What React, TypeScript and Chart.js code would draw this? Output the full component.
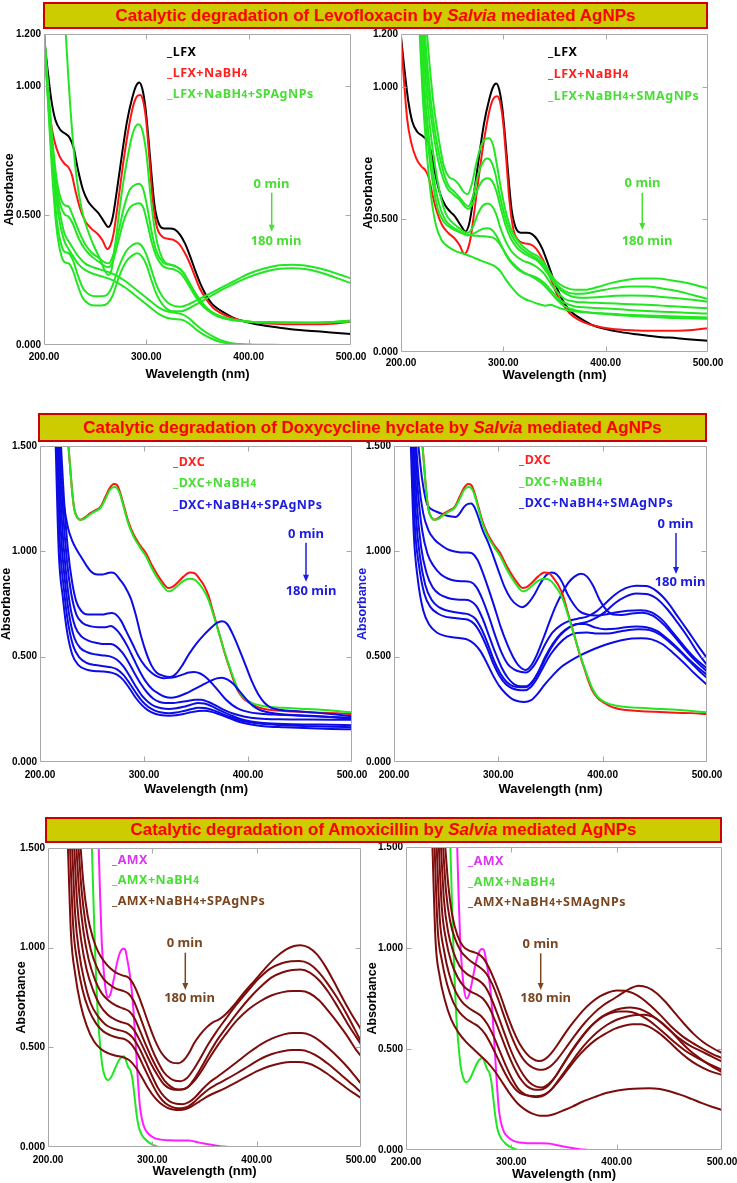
import React, { useEffect, useRef } from "react";
import { Chart, registerables } from "chart.js";

Chart.register(...registerables);

type Pt = [number, number];

// ---------- axis ticks ----------
const X_TICKS = [200, 300, 400, 500];
const Y_TICKS_LFX = [0, 0.5, 1.0, 1.2];
const Y_TICKS_STD = [0, 0.5, 1.0, 1.5];

// ---------- Levofloxacin (panels 1 & 2) ----------
const LFX: Pt[] = [[200,1.19],[203,1.08],[207,0.95],[211,0.87],[216,0.83],[221,0.815],[225,0.8],[229,0.76],[233,0.68],[238,0.6],[243,0.555],[248,0.53],[253,0.51],[258,0.48],[263,0.455],[267,0.49],[271,0.59],[276,0.73],[281,0.86],[286,0.95],[290,1.0],[293,1.013],[296,0.99],[299,0.92],[302,0.8],[305,0.66],[308,0.54],[312,0.47],[317,0.45],[323,0.45],[328,0.445],[333,0.425],[338,0.39],[343,0.34],[348,0.285],[353,0.235],[358,0.195],[364,0.16],[370,0.14],[378,0.12],[388,0.1],[400,0.087],[415,0.075],[430,0.067],[450,0.058],[470,0.052],[490,0.045],[500,0.042]];
const LFX_NABH4: Pt[] = [[200,1.18],[203,1.02],[206,0.88],[210,0.79],[215,0.73],[220,0.7],[224,0.685],[227,0.66],[231,0.59],[235,0.53],[240,0.48],[246,0.45],[252,0.43],[257,0.405],[262,0.37],[265,0.385],[268,0.43],[272,0.54],[277,0.69],[282,0.82],[287,0.92],[291,0.96],[294,0.965],[297,0.94],[300,0.86],[303,0.72],[306,0.57],[310,0.46],[315,0.42],[321,0.41],[327,0.405],[332,0.39],[337,0.36],[342,0.32],[347,0.27],[352,0.22],[358,0.18],[365,0.145],[372,0.125],[380,0.11],[390,0.098],[405,0.088],[425,0.082],[450,0.08],[470,0.08],[485,0.083],[500,0.09]];

const LFX_SP_1: Pt[] = [[221,1.22],[224,1.02],[228,0.8],[232,0.64],[237,0.52],[243,0.44],[249,0.38],[255,0.33],[259,0.29],[263,0.27],[266,0.29],[270,0.4],[275,0.56],[281,0.71],[287,0.82],[292,0.852],[296,0.83],[300,0.74],[304,0.58],[308,0.45],[313,0.36],[318,0.32],[324,0.31],[330,0.3],[336,0.28],[342,0.24],[348,0.2],[355,0.16],[363,0.13],[372,0.11],[385,0.097],[400,0.09],[430,0.087],[460,0.086],[480,0.088],[500,0.095]];
const LFX_SP_2: Pt[] = [[200,1.21],[204,1.0],[208,0.8],[212,0.65],[216,0.57],[220,0.54],[224,0.535],[228,0.5],[234,0.44],[240,0.39],[247,0.355],[254,0.335],[259,0.32],[263,0.315],[267,0.34],[272,0.42],[278,0.53],[284,0.6],[290,0.62],[293,0.622],[297,0.6],[301,0.53],[305,0.44],[310,0.36],[316,0.32],[322,0.31],[328,0.305],[334,0.29],[340,0.255],[346,0.21],[353,0.17],[361,0.135],[370,0.115],[382,0.1],[400,0.09],[430,0.087],[460,0.086],[480,0.088],[500,0.093]];
const LFX_SP_3: Pt[] = [[200,1.2],[204,0.98],[208,0.78],[212,0.62],[216,0.54],[220,0.505],[224,0.495],[228,0.47],[234,0.41],[240,0.37],[247,0.34],[254,0.32],[259,0.305],[263,0.3],[267,0.32],[272,0.39],[278,0.48],[284,0.53],[290,0.545],[293,0.547],[297,0.53],[301,0.47],[305,0.4],[310,0.34],[316,0.305],[322,0.295],[328,0.29],[334,0.275],[340,0.24],[346,0.2],[353,0.16],[361,0.13],[370,0.11],[382,0.097],[400,0.09],[430,0.087],[460,0.086],[480,0.088],[500,0.091]];
const LFX_SP_4: Pt[] = [[200,1.2],[204,0.95],[208,0.7],[212,0.5],[216,0.4],[220,0.36],[224,0.355],[228,0.33],[233,0.27],[238,0.22],[244,0.195],[250,0.188],[256,0.188],[262,0.195],[267,0.23],[273,0.3],[280,0.36],[286,0.385],[291,0.393],[295,0.385],[300,0.35],[305,0.29],[310,0.23],[316,0.185],[322,0.16],[328,0.15],[334,0.148],[340,0.155],[348,0.17],[358,0.19],[370,0.215],[385,0.245],[400,0.275],[415,0.295],[430,0.308],[442,0.31],[455,0.307],[470,0.295],[485,0.277],[500,0.257]];
const LFX_SP_5: Pt[] = [[200,1.2],[204,0.93],[208,0.66],[212,0.46],[216,0.36],[220,0.32],[224,0.315],[228,0.29],[233,0.23],[238,0.18],[244,0.158],[250,0.152],[256,0.152],[262,0.16],[267,0.19],[273,0.26],[280,0.32],[286,0.345],[291,0.354],[295,0.345],[300,0.31],[305,0.25],[310,0.195],[316,0.155],[322,0.135],[328,0.13],[334,0.13],[340,0.138],[348,0.155],[358,0.177],[370,0.205],[385,0.235],[400,0.262],[415,0.282],[430,0.294],[442,0.296],[455,0.293],[470,0.28],[485,0.26],[500,0.238]];
const LFX_SP_6: Pt[] = [[200,1.21],[204,0.97],[208,0.76],[212,0.6],[216,0.5],[220,0.43],[224,0.4],[228,0.375],[234,0.34],[240,0.315],[248,0.3],[256,0.29],[264,0.28],[272,0.265],[280,0.245],[288,0.22],[296,0.195],[304,0.17],[312,0.145],[320,0.13],[327,0.125],[334,0.12],[341,0.105],[348,0.08],[356,0.055],[364,0.035],[372,0.02],[382,0.008],[395,0.003],[420,0.001],[440,-0.002],[450,-0.02]];
const LFX_SP_7: Pt[] = [[200,1.2],[204,0.95],[208,0.73],[212,0.56],[216,0.46],[220,0.4],[224,0.37],[228,0.345],[234,0.31],[240,0.29],[248,0.275],[256,0.265],[264,0.255],[272,0.24],[280,0.22],[288,0.195],[296,0.17],[304,0.145],[312,0.12],[320,0.105],[327,0.1],[334,0.098],[341,0.085],[348,0.062],[356,0.04],[364,0.024],[372,0.012],[382,0.005],[395,0.001],[420,0],[440,-0.002],[450,-0.02]];

const LFX_SM_1: Pt[] = [[225,1.22],[228,1.08],[232,0.93],[237,0.8],[242,0.7],[247,0.66],[252,0.65],[257,0.63],[261,0.605],[265,0.595],[269,0.63],[274,0.72],[279,0.785],[283,0.805],[286,0.807],[290,0.78],[294,0.7],[298,0.61],[303,0.52],[308,0.46],[314,0.42],[320,0.395],[327,0.375],[334,0.36],[340,0.335],[346,0.295],[352,0.265],[360,0.245],[370,0.235],[380,0.235],[392,0.245],[405,0.26],[420,0.272],[435,0.277],[450,0.277],[465,0.27],[480,0.26],[490,0.25],[500,0.24]];
const LFX_SM_2: Pt[] = [[223,1.22],[226,1.07],[230,0.92],[235,0.79],[240,0.7],[246,0.63],[252,0.605],[258,0.58],[262,0.56],[266,0.55],[270,0.585],[275,0.665],[280,0.715],[284,0.73],[288,0.72],[292,0.675],[296,0.6],[301,0.52],[306,0.46],[312,0.415],[318,0.39],[325,0.37],[332,0.355],[339,0.33],[345,0.295],[352,0.255],[360,0.23],[370,0.22],[382,0.222],[395,0.232],[410,0.242],[425,0.247],[440,0.247],[455,0.24],[470,0.23],[485,0.215],[500,0.2]];
const LFX_SM_3: Pt[] = [[222,1.22],[225,1.05],[229,0.9],[234,0.77],[239,0.68],[245,0.62],[251,0.595],[257,0.575],[262,0.55],[266,0.54],[270,0.56],[275,0.615],[280,0.648],[285,0.656],[289,0.645],[293,0.61],[297,0.55],[302,0.48],[307,0.43],[313,0.395],[319,0.375],[326,0.36],[333,0.345],[340,0.315],[346,0.28],[353,0.245],[360,0.222],[370,0.207],[382,0.205],[395,0.208],[410,0.212],[425,0.213],[440,0.212],[455,0.208],[470,0.203],[485,0.197],[500,0.19]];
const LFX_SM_4: Pt[] = [[221,1.22],[224,1.03],[228,0.86],[233,0.71],[238,0.6],[244,0.52],[250,0.49],[256,0.47],[261,0.455],[265,0.45],[270,0.47],[275,0.52],[280,0.553],[285,0.56],[289,0.55],[293,0.52],[297,0.47],[302,0.42],[307,0.385],[313,0.36],[319,0.345],[326,0.335],[333,0.32],[340,0.295],[346,0.26],[353,0.225],[360,0.2],[370,0.19],[382,0.187],[395,0.185],[410,0.183],[425,0.18],[440,0.178],[455,0.175],[470,0.172],[485,0.168],[500,0.165]];
const LFX_SM_5: Pt[] = [[220,1.22],[223,1.0],[227,0.82],[232,0.66],[237,0.56],[243,0.5],[249,0.475],[255,0.46],[260,0.45],[265,0.44],[270,0.445],[275,0.455],[280,0.465],[285,0.467],[289,0.46],[293,0.44],[297,0.41],[302,0.37],[307,0.34],[313,0.315],[319,0.3],[326,0.29],[333,0.28],[340,0.26],[346,0.235],[353,0.205],[360,0.185],[370,0.172],[382,0.168],[395,0.165],[410,0.162],[425,0.158],[440,0.155],[455,0.152],[470,0.15],[485,0.147],[500,0.145]];
const LFX_SM_6: Pt[] = [[219,1.22],[222,1.0],[226,0.8],[231,0.64],[236,0.54],[242,0.49],[248,0.47],[255,0.455],[262,0.445],[270,0.44],[278,0.437],[285,0.435],[291,0.43],[296,0.41],[301,0.38],[306,0.35],[312,0.325],[318,0.305],[325,0.29],[332,0.275],[339,0.255],[346,0.225],[353,0.195],[360,0.172],[370,0.158],[382,0.15],[395,0.146],[410,0.143],[425,0.14],[440,0.138],[455,0.136],[470,0.134],[485,0.132],[500,0.13]];
const LFX_SM_7: Pt[] = [[218,1.22],[221,0.98],[225,0.76],[229,0.6],[234,0.48],[240,0.42],[247,0.395],[254,0.38],[262,0.37],[270,0.358],[278,0.345],[285,0.335],[291,0.325],[297,0.305],[303,0.27],[309,0.24],[315,0.215],[321,0.2],[328,0.19],[335,0.18],[341,0.175],[346,0.178],[351,0.172],[358,0.162],[367,0.155],[380,0.15],[395,0.145],[410,0.14],[425,0.136],[440,0.133],[455,0.13],[470,0.128],[485,0.126],[500,0.125]];

// ---------- Doxycycline (panels 3 & 4) ----------
const DXC: Pt[] = [[227,1.52],[229,1.4],[231,1.28],[233,1.2],[236,1.16],[239,1.15],[243,1.16],[248,1.18],[253,1.195],[258,1.21],[263,1.26],[267,1.3],[271,1.32],[274,1.315],[277,1.28],[281,1.21],[285,1.14],[290,1.08],[296,1.03],[302,0.99],[308,0.93],[314,0.88],[319,0.845],[323,0.826],[327,0.83],[332,0.85],[338,0.88],[344,0.9],[349,0.895],[354,0.865],[358,0.835],[362,0.79],[366,0.72],[370,0.65],[374,0.58],[378,0.51],[382,0.45],[386,0.39],[390,0.34],[395,0.305],[400,0.285],[406,0.268],[412,0.256],[420,0.248],[435,0.242],[450,0.238],[470,0.234],[485,0.232],[500,0.228]];
const DXC_NABH4: Pt[] = [[227,1.52],[229,1.4],[231,1.28],[233,1.2],[236,1.16],[239,1.15],[243,1.155],[248,1.175],[253,1.19],[258,1.205],[263,1.25],[267,1.29],[271,1.305],[274,1.3],[277,1.27],[281,1.2],[285,1.13],[290,1.07],[296,1.02],[302,0.975],[308,0.915],[314,0.865],[319,0.83],[323,0.81],[327,0.815],[332,0.835],[338,0.86],[344,0.87],[349,0.865],[354,0.84],[358,0.81],[362,0.77],[366,0.71],[370,0.645],[374,0.58],[378,0.515],[382,0.455],[386,0.4],[390,0.35],[395,0.31],[400,0.29],[406,0.276],[412,0.268],[420,0.262],[435,0.257],[450,0.253],[470,0.248],[485,0.242],[500,0.236]];

const DXC_SP_1: Pt[] = [[217,1.52],[220,1.35],[223,1.22],[227,1.11],[231,1.05],[235,1.01],[240,0.97],[245,0.93],[250,0.9],[255,0.89],[260,0.89],[264,0.895],[268,0.9],[272,0.895],[277,0.865],[282,0.83],[287,0.78],[292,0.7],[297,0.6],[302,0.52],[307,0.46],[312,0.425],[318,0.41],[325,0.403],[331,0.42],[337,0.46],[343,0.51],[350,0.56],[357,0.6],[364,0.635],[370,0.66],[375,0.668],[380,0.655],[386,0.6],[392,0.53],[398,0.455],[404,0.38],[410,0.32],[416,0.28],[422,0.258],[430,0.248],[450,0.24],[470,0.232],[485,0.225],[500,0.217]];
const DXC_SP_2: Pt[] = [[220,1.52],[223,1.25],[227,1.0],[231,0.85],[235,0.76],[240,0.715],[246,0.7],[253,0.7],[260,0.7],[265,0.705],[269,0.707],[273,0.7],[278,0.67],[283,0.62],[289,0.56],[295,0.5],[301,0.455],[307,0.425],[313,0.405],[319,0.397],[325,0.4],[331,0.405],[337,0.415],[343,0.425],[348,0.427],[354,0.42],[360,0.4],[366,0.37],[372,0.335],[378,0.3],[385,0.27],[392,0.25],[400,0.238],[410,0.23],[425,0.225],[450,0.22],[475,0.215],[500,0.21]];
const DXC_SP_3: Pt[] = [[219,1.52],[222,1.2],[226,0.95],[230,0.8],[235,0.7],[241,0.66],[248,0.645],[256,0.64],[263,0.64],[268,0.645],[273,0.63],[278,0.6],[284,0.55],[290,0.49],[296,0.43],[302,0.38],[308,0.345],[314,0.325],[320,0.31],[326,0.305],[332,0.31],[340,0.325],[348,0.345],[356,0.365],[364,0.385],[370,0.397],[375,0.4],[380,0.392],[386,0.37],[392,0.335],[398,0.3],[404,0.27],[410,0.25],[418,0.237],[430,0.228],[450,0.222],[475,0.215],[500,0.205]];
const DXC_SP_4: Pt[] = [[218,1.52],[221,1.15],[225,0.9],[229,0.74],[234,0.64],[240,0.595],[247,0.575],[255,0.565],[262,0.56],[268,0.56],[273,0.55],[279,0.52],[285,0.475],[291,0.42],[297,0.37],[303,0.33],[309,0.3],[315,0.285],[321,0.28],[328,0.28],[335,0.285],[342,0.29],[349,0.295],[355,0.295],[362,0.285],[370,0.265],[378,0.245],[387,0.228],[397,0.215],[410,0.207],[430,0.203],[455,0.202],[480,0.201],[500,0.2]];
const DXC_SP_5: Pt[] = [[217,1.52],[220,1.1],[224,0.86],[228,0.7],[233,0.59],[239,0.54],[246,0.52],[254,0.51],[262,0.505],[268,0.5],[274,0.485],[280,0.455],[286,0.41],[292,0.36],[298,0.315],[304,0.285],[310,0.265],[317,0.255],[324,0.252],[331,0.255],[338,0.262],[345,0.272],[352,0.28],[358,0.278],[365,0.265],[373,0.245],[382,0.225],[392,0.205],[403,0.192],[415,0.185],[435,0.18],[460,0.178],[480,0.177],[500,0.175]];
const DXC_SP_6: Pt[] = [[216,1.52],[219,1.05],[223,0.82],[227,0.66],[232,0.55],[238,0.495],[245,0.47],[253,0.46],[261,0.455],[268,0.45],[274,0.44],[280,0.415],[286,0.375],[292,0.33],[298,0.29],[304,0.262],[310,0.245],[317,0.235],[324,0.232],[331,0.235],[338,0.242],[345,0.25],[352,0.257],[358,0.256],[365,0.248],[373,0.233],[382,0.215],[392,0.198],[403,0.187],[415,0.18],[435,0.174],[460,0.17],[480,0.167],[500,0.165]];
const DXC_SP_7: Pt[] = [[215,1.52],[218,1.0],[222,0.78],[226,0.62],[231,0.51],[237,0.46],[244,0.44],[252,0.432],[260,0.43],[268,0.425],[274,0.415],[280,0.39],[286,0.35],[292,0.305],[298,0.27],[304,0.245],[310,0.23],[317,0.222],[324,0.22],[331,0.222],[338,0.228],[345,0.236],[352,0.242],[358,0.243],[365,0.238],[373,0.225],[382,0.208],[392,0.19],[403,0.178],[415,0.17],[435,0.165],[460,0.16],[480,0.157],[500,0.155]];

const DXC_SM_1: Pt[] = [[223,1.52],[226,1.38],[229,1.28],[232,1.22],[236,1.2],[240,1.19],[245,1.18],[250,1.17],[255,1.165],[259,1.163],[263,1.18],[267,1.21],[271,1.225],[274,1.227],[277,1.21],[281,1.16],[285,1.1],[290,1.045],[295,0.98],[300,0.91],[306,0.83],[312,0.775],[318,0.745],[323,0.735],[328,0.75],[334,0.79],[340,0.845],[346,0.888],[351,0.899],[356,0.89],[361,0.855],[366,0.8],[372,0.75],[378,0.715],[385,0.7],[393,0.695],[402,0.7],[412,0.71],[424,0.718],[436,0.72],[447,0.71],[458,0.67],[468,0.61],[478,0.55],[489,0.49],[500,0.445]];
const DXC_SM_2: Pt[] = [[221,1.52],[224,1.32],[228,1.18],[233,1.1],[239,1.055],[245,1.03],[251,1.01],[257,1.0],[264,0.995],[270,0.995],[275,0.99],[280,0.96],[285,0.9],[290,0.83],[296,0.74],[302,0.645],[308,0.565],[314,0.5],[320,0.455],[326,0.437],[331,0.455],[337,0.51],[343,0.585],[349,0.665],[355,0.74],[361,0.8],[367,0.85],[373,0.88],[379,0.893],[385,0.88],[391,0.835],[397,0.77],[403,0.725],[410,0.7],[418,0.698],[428,0.705],[438,0.708],[448,0.695],[458,0.655],[468,0.6],[478,0.54],[489,0.48],[500,0.43]];
const DXC_SM_3: Pt[] = [[220,1.52],[223,1.28],[227,1.1],[232,0.99],[238,0.93],[245,0.89],[252,0.87],[259,0.86],[266,0.858],[273,0.855],[279,0.83],[285,0.77],[291,0.69],[297,0.6],[303,0.52],[309,0.465],[315,0.44],[321,0.428],[327,0.425],[333,0.45],[339,0.5],[345,0.56],[352,0.615],[360,0.65],[368,0.67],[376,0.68],[385,0.69],[394,0.715],[403,0.755],[412,0.795],[422,0.825],[432,0.837],[442,0.835],[452,0.81],[462,0.76],[472,0.69],[482,0.62],[491,0.555],[500,0.493]];
const DXC_SM_4: Pt[] = [[219,1.52],[222,1.22],[226,1.02],[231,0.9],[237,0.83],[244,0.795],[251,0.78],[258,0.772],[266,0.77],[273,0.765],[279,0.74],[285,0.68],[291,0.6],[297,0.52],[303,0.45],[309,0.4],[315,0.37],[321,0.36],[327,0.36],[333,0.385],[339,0.435],[345,0.5],[352,0.56],[360,0.61],[368,0.64],[376,0.655],[385,0.665],[394,0.685],[403,0.715],[412,0.755],[422,0.785],[432,0.8],[442,0.798],[452,0.775],[462,0.725],[472,0.66],[482,0.59],[491,0.52],[500,0.46]];
const DXC_SM_5: Pt[] = [[218,1.52],[221,1.17],[225,0.97],[230,0.84],[236,0.77],[243,0.735],[250,0.72],[257,0.712],[265,0.706],[272,0.7],[278,0.68],[284,0.63],[290,0.56],[296,0.48],[302,0.42],[308,0.38],[314,0.36],[320,0.355],[326,0.355],[332,0.375],[338,0.42],[344,0.48],[351,0.545],[359,0.6],[367,0.635],[375,0.655],[383,0.655],[392,0.64],[402,0.63],[412,0.632],[422,0.64],[432,0.643],[442,0.64],[452,0.622],[462,0.585],[472,0.54],[482,0.49],[491,0.45],[500,0.414]];
const DXC_SM_6: Pt[] = [[217,1.52],[220,1.12],[224,0.93],[229,0.8],[235,0.735],[242,0.705],[249,0.69],[256,0.685],[264,0.68],[271,0.675],[277,0.655],[283,0.61],[289,0.545],[295,0.47],[301,0.41],[307,0.37],[313,0.35],[319,0.342],[325,0.34],[331,0.355],[337,0.395],[343,0.45],[350,0.51],[358,0.56],[366,0.595],[375,0.612],[385,0.615],[395,0.61],[405,0.61],[415,0.618],[425,0.627],[435,0.63],[445,0.626],[455,0.605],[465,0.565],[475,0.52],[485,0.47],[493,0.43],[500,0.4]];
const DXC_SM_7: Pt[] = [[216,1.52],[219,1.08],[223,0.86],[228,0.72],[234,0.65],[241,0.615],[248,0.6],[256,0.592],[264,0.587],[271,0.58],[277,0.56],[283,0.525],[289,0.47],[295,0.41],[301,0.36],[307,0.325],[313,0.3],[319,0.288],[325,0.285],[331,0.292],[337,0.32],[344,0.365],[352,0.41],[360,0.45],[369,0.48],[378,0.505],[388,0.528],[398,0.548],[408,0.565],[418,0.578],[428,0.586],[437,0.588],[447,0.582],[457,0.56],[467,0.52],[477,0.475],[487,0.425],[500,0.367]];

// ---------- Amoxicillin (panels 5 & 6) ----------
const AMX: Pt[] = [[248.5,1.52],[250,1.25],[251.5,1.03],[253,0.91],[255,0.8],[257.5,0.75],[260,0.77],[263,0.84],[266,0.92],[269,0.975],[272,0.995],[274,0.99],[276,0.94],[278,0.88],[280,0.8],[282,0.68],[284,0.52],[286,0.35],[288,0.21],[290,0.14],[293,0.09],[297,0.063],[302,0.045],[308,0.037],[315,0.034],[325,0.033],[335,0.032],[345,0.022],[355,0.012],[365,0.004],[373,0],[380,-0.01]];
const AMX_NABH4: Pt[] = [[242,1.52],[243.5,1.25],[245,1.0],[246.5,0.8],[248,0.64],[250,0.51],[252,0.41],[254.5,0.355],[257.5,0.335],[260.5,0.35],[264,0.39],[268,0.435],[271,0.452],[273,0.455],[275,0.43],[277,0.4],[279,0.385],[281,0.34],[283,0.25],[285,0.16],[287,0.1],[290,0.06],[294,0.035],[298,0.018],[302,0.008],[306,0],[310,-0.01]];

const AMX_SP_1: Pt[] = [[231,1.52],[234,1.32],[238,1.16],[243,1.05],[248,0.98],[254,0.93],[260,0.895],[266,0.872],[272,0.86],[277,0.85],[281,0.825],[286,0.77],[291,0.7],[297,0.61],[303,0.53],[309,0.47],[315,0.435],[320,0.422],[325,0.42],[330,0.435],[335,0.47],[340,0.52],[346,0.565],[352,0.6],[358,0.625],[364,0.64],[370,0.665],[378,0.71],[388,0.775],[398,0.835],[408,0.895],[418,0.95],[428,0.99],[436,1.008],[442,1.012],[450,1.0],[458,0.965],[466,0.905],[474,0.83],[482,0.75],[490,0.675],[500,0.59]];
const AMX_SP_2: Pt[] = [[229,1.52],[232,1.3],[236,1.12],[241,0.99],[247,0.9],[253,0.845],[259,0.815],[265,0.795],[271,0.785],[277,0.77],[282,0.735],[287,0.67],[293,0.585],[299,0.5],[305,0.43],[311,0.375],[317,0.345],[322,0.332],[327,0.33],[333,0.345],[339,0.385],[346,0.445],[353,0.51],[361,0.575],[370,0.64],[380,0.71],[391,0.78],[402,0.845],[413,0.895],[424,0.922],[433,0.932],[441,0.933],[450,0.92],[459,0.88],[468,0.82],[477,0.75],[486,0.67],[494,0.59],[500,0.53]];
const AMX_SP_3: Pt[] = [[227,1.52],[230,1.27],[234,1.08],[239,0.94],[245,0.84],[251,0.775],[258,0.735],[265,0.71],[272,0.695],[278,0.68],[283,0.645],[288,0.585],[294,0.51],[300,0.44],[306,0.38],[312,0.33],[318,0.302],[323,0.29],[328,0.288],[334,0.3],[340,0.34],[347,0.4],[354,0.465],[362,0.535],[371,0.6],[381,0.67],[392,0.74],[403,0.8],[414,0.85],[425,0.877],[434,0.888],[442,0.89],[451,0.875],[460,0.835],[469,0.775],[478,0.7],[487,0.62],[495,0.555],[500,0.515]];
const AMX_SP_4: Pt[] = [[225,1.52],[228,1.22],[232,1.03],[237,0.89],[243,0.79],[250,0.71],[257,0.665],[264,0.64],[271,0.625],[277,0.615],[282,0.59],[287,0.545],[293,0.48],[299,0.415],[305,0.36],[311,0.315],[317,0.293],[322,0.287],[328,0.288],[334,0.3],[340,0.33],[347,0.38],[354,0.44],[362,0.505],[371,0.57],[381,0.635],[392,0.69],[403,0.73],[414,0.76],[425,0.777],[434,0.782],[442,0.782],[451,0.77],[460,0.735],[469,0.68],[478,0.62],[487,0.555],[495,0.49],[500,0.456]];
const AMX_SP_5: Pt[] = [[223,1.52],[226,1.17],[230,0.97],[235,0.83],[241,0.72],[248,0.655],[255,0.615],[262,0.595],[269,0.585],[275,0.575],[281,0.55],[287,0.5],[293,0.435],[299,0.365],[305,0.3],[311,0.255],[317,0.228],[323,0.217],[329,0.215],[335,0.225],[341,0.25],[348,0.29],[355,0.325],[363,0.355],[372,0.39],[382,0.43],[393,0.475],[404,0.515],[415,0.545],[426,0.565],[435,0.572],[443,0.572],[452,0.56],[461,0.53],[470,0.49],[479,0.445],[488,0.395],[495,0.35],[500,0.318]];
const AMX_SP_6: Pt[] = [[221,1.52],[224,1.12],[228,0.93],[233,0.79],[239,0.69],[246,0.62],[253,0.58],[260,0.56],[267,0.548],[274,0.54],[280,0.515],[286,0.465],[292,0.4],[298,0.335],[304,0.275],[310,0.232],[316,0.207],[322,0.196],[328,0.194],[334,0.202],[340,0.225],[347,0.26],[354,0.29],[362,0.315],[371,0.34],[381,0.37],[392,0.405],[403,0.44],[414,0.465],[425,0.48],[434,0.486],[442,0.486],[451,0.475],[460,0.45],[469,0.415],[478,0.375],[487,0.335],[495,0.298],[500,0.275]];
const AMX_SP_7: Pt[] = [[219,1.52],[222,1.07],[226,0.87],[231,0.72],[237,0.61],[244,0.53],[251,0.49],[258,0.47],[265,0.458],[272,0.45],[278,0.435],[284,0.4],[290,0.35],[296,0.295],[302,0.25],[308,0.218],[314,0.198],[320,0.188],[326,0.185],[332,0.19],[338,0.205],[345,0.228],[352,0.252],[360,0.272],[369,0.293],[379,0.32],[390,0.352],[401,0.382],[412,0.405],[423,0.42],[432,0.427],[440,0.427],[449,0.42],[458,0.4],[467,0.37],[476,0.335],[485,0.3],[493,0.27],[500,0.246]];

const AMX_SM_1: Pt[] = [[237,1.52],[240,1.32],[244,1.16],[249,1.06],[254,1.01],[259,0.99],[264,0.98],[269,0.97],[274,0.945],[279,0.9],[284,0.84],[290,0.76],[296,0.67],[302,0.59],[308,0.525],[314,0.48],[320,0.452],[326,0.44],[332,0.45],[338,0.48],[345,0.53],[352,0.585],[360,0.64],[368,0.69],[376,0.73],[384,0.76],[392,0.78],[400,0.79],[408,0.788],[416,0.775],[424,0.75],[432,0.715],[442,0.665],[452,0.61],[462,0.565],[472,0.53],[482,0.5],[491,0.475],[500,0.455]];
const AMX_SM_2: Pt[] = [[235,1.52],[238,1.28],[242,1.13],[247,1.04],[252,0.985],[258,0.95],[264,0.925],[270,0.905],[276,0.875],[282,0.82],[288,0.74],[294,0.65],[300,0.565],[306,0.495],[312,0.445],[318,0.415],[324,0.4],[330,0.397],[336,0.41],[343,0.445],[351,0.5],[360,0.565],[369,0.625],[378,0.675],[387,0.715],[396,0.745],[405,0.775],[413,0.8],[421,0.813],[429,0.805],[437,0.78],[446,0.735],[455,0.68],[464,0.625],[473,0.575],[482,0.535],[491,0.505],[500,0.48]];
const AMX_SM_3: Pt[] = [[233,1.52],[236,1.24],[240,1.08],[245,0.98],[251,0.91],[257,0.875],[263,0.855],[269,0.84],[275,0.81],[281,0.75],[287,0.67],[293,0.585],[299,0.5],[305,0.43],[311,0.375],[317,0.335],[323,0.315],[329,0.31],[335,0.325],[342,0.365],[350,0.43],[359,0.5],[368,0.565],[377,0.62],[386,0.66],[395,0.685],[404,0.7],[413,0.706],[422,0.698],[431,0.675],[440,0.64],[450,0.595],[460,0.55],[470,0.515],[480,0.49],[490,0.463],[500,0.438]];
const AMX_SM_4: Pt[] = [[231,1.52],[234,1.2],[238,1.04],[243,0.93],[249,0.855],[255,0.81],[261,0.785],[267,0.77],[273,0.75],[279,0.705],[285,0.635],[291,0.555],[297,0.475],[303,0.405],[309,0.35],[315,0.315],[321,0.3],[327,0.298],[333,0.31],[340,0.35],[348,0.415],[357,0.49],[366,0.555],[375,0.61],[384,0.65],[393,0.675],[402,0.686],[410,0.686],[419,0.675],[428,0.65],[437,0.615],[447,0.57],[457,0.525],[467,0.485],[477,0.455],[488,0.425],[500,0.397]];
const AMX_SM_5: Pt[] = [[229,1.52],[232,1.15],[236,0.99],[241,0.87],[247,0.785],[253,0.735],[259,0.705],[265,0.685],[271,0.665],[277,0.625],[283,0.565],[289,0.49],[295,0.415],[301,0.35],[307,0.3],[313,0.275],[319,0.265],[325,0.262],[331,0.27],[338,0.3],[346,0.355],[355,0.42],[364,0.485],[373,0.54],[382,0.585],[391,0.62],[400,0.645],[409,0.66],[418,0.668],[426,0.67],[434,0.66],[443,0.63],[452,0.585],[461,0.535],[470,0.49],[480,0.45],[490,0.415],[500,0.385]];
const AMX_SM_6: Pt[] = [[227,1.52],[230,1.1],[234,0.94],[239,0.82],[245,0.73],[251,0.68],[257,0.65],[263,0.63],[269,0.61],[275,0.575],[281,0.52],[287,0.455],[293,0.39],[299,0.335],[305,0.295],[311,0.275],[317,0.268],[323,0.266],[329,0.27],[336,0.29],[344,0.335],[353,0.395],[362,0.455],[371,0.505],[380,0.545],[389,0.575],[398,0.6],[407,0.615],[415,0.622],[423,0.623],[431,0.61],[440,0.58],[449,0.54],[458,0.495],[467,0.455],[477,0.42],[488,0.392],[500,0.372]];
const AMX_SM_7: Pt[] = [[225,1.52],[228,1.04],[232,0.86],[237,0.74],[243,0.645],[250,0.58],[257,0.535],[264,0.5],[271,0.465],[278,0.43],[285,0.385],[292,0.33],[299,0.275],[306,0.23],[313,0.2],[320,0.18],[327,0.17],[334,0.17],[341,0.178],[349,0.195],[358,0.215],[368,0.24],[379,0.262],[390,0.282],[401,0.295],[412,0.302],[422,0.305],[431,0.306],[441,0.302],[451,0.29],[461,0.273],[471,0.253],[481,0.232],[491,0.213],[500,0.198]];

// ---------- colours ----------
const COL_BLACK = "#000000";
const COL_RED = "#ff1414";
const COL_GREEN = "#22e622";
const COL_BLUE = "#0c0ce6";
const COL_MAGENTA = "#ff1eff";
const COL_MAROON = "#7d0c0c";
const TXT_GREEN = "#48de34";
const TXT_RED = "#ff2020";
const TXT_BLUE = "#1c1ce0";
const TXT_MAGENTA = "#d838f0";
const TXT_BROWN = "#7a4620";
const FRAME = "#a8a8a8";

const AXIS_FONT = "'Liberation Sans', Arial, sans-serif";
const LABEL_FONT = "'Noto Sans', 'Open Sans', sans-serif";

type Series = { pts: Pt[]; color: string };
type PanelCfg = {
  L: number; T: number; R: number; B: number;
  ymax: number; yTicks: number[];
  series: Series[];
  yTitlePad: number; xH: number; xPad: number; yTitleColor: string;
};

const Y_W = 44;
const PAD_TOP = 8;
const PAD_RIGHT = 18;

const g = (pts: Pt[], color: string): Series => ({ pts, color });

const PANELS: PanelCfg[] = [
  {
    L: 44, T: 34, R: 351, B: 345, ymax: 1.2, yTicks: Y_TICKS_LFX,
    series: [LFX_SP_1, LFX_SP_2, LFX_SP_3, LFX_SP_4, LFX_SP_5, LFX_SP_6, LFX_SP_7].map((p) => g(p, COL_GREEN))
      .concat([g(LFX_NABH4, COL_RED), g(LFX, COL_BLACK)]),
    yTitlePad: 2.5, xH: 37, xPad: 6.5, yTitleColor: "#000",
  },
  {
    L: 401, T: 34, R: 708, B: 352, ymax: 1.2, yTicks: Y_TICKS_LFX,
    series: [LFX_SM_1, LFX_SM_2, LFX_SM_3, LFX_SM_4, LFX_SM_5, LFX_SM_6, LFX_SM_7].map((p) => g(p, COL_GREEN))
      .concat([g(LFX_NABH4, COL_RED), g(LFX, COL_BLACK)]),
    yTitlePad: 4.5, xH: 31, xPad: 5.5, yTitleColor: "#000",
  },
  {
    L: 40, T: 446, R: 352, B: 762, ymax: 1.5, yTicks: Y_TICKS_STD,
    series: [DXC_SP_1, DXC_SP_2, DXC_SP_3, DXC_SP_4, DXC_SP_5, DXC_SP_6, DXC_SP_7].map((p) => g(p, COL_BLUE))
      .concat([g(DXC_NABH4, COL_GREEN), g(DXC, COL_RED)]),
    yTitlePad: 3.5, xH: 35, xPad: 7, yTitleColor: "#000",
  },
  {
    L: 394, T: 446, R: 707, B: 762, ymax: 1.5, yTicks: Y_TICKS_STD,
    series: [g(DXC_NABH4, COL_GREEN), g(DXC, COL_RED)].concat(
      [DXC_SM_1, DXC_SM_2, DXC_SM_3, DXC_SM_4, DXC_SM_5, DXC_SM_6, DXC_SM_7].map((p) => g(p, COL_BLUE))),
    yTitlePad: 5.5, xH: 35, xPad: 7, yTitleColor: TXT_BLUE,
  },
  {
    L: 48, T: 848, R: 361, B: 1147, ymax: 1.5, yTicks: Y_TICKS_STD,
    series: [AMX_SP_1, AMX_SP_2, AMX_SP_3, AMX_SP_4, AMX_SP_5, AMX_SP_6, AMX_SP_7].map((p) => g(p, COL_MAROON))
      .concat([g(AMX_NABH4, COL_GREEN), g(AMX, COL_MAGENTA)]),
    yTitlePad: 10, xH: 32, xPad: 7.5, yTitleColor: "#000",
  },
  {
    L: 406, T: 847, R: 722, B: 1150, ymax: 1.5, yTicks: Y_TICKS_STD,
    series: [AMX_SM_1, AMX_SM_2, AMX_SM_3, AMX_SM_4, AMX_SM_5, AMX_SM_6, AMX_SM_7].map((p) => g(p, COL_MAROON))
      .concat([g(AMX_NABH4, COL_GREEN), g(AMX, COL_MAGENTA)]),
    yTitlePad: 3.5, xH: 32, xPad: 6.5, yTitleColor: "#000",
  },
];

// ---------- legends & annotations ----------
type LegendCfg = { x: number; ys: number[]; items: [string, string][] };
const LEGENDS: LegendCfg[] = [
  { x: 167, ys: [52, 73, 94], items: [["_LFX", COL_BLACK], ["_LFX+NaBH4", TXT_RED], ["_LFX+NaBH4+SPAgNPs", TXT_GREEN]] },
  { x: 548, ys: [52, 74, 96], items: [["_LFX", COL_BLACK], ["_LFX+NaBH4", TXT_RED], ["_LFX+NaBH4+SMAgNPs", TXT_GREEN]] },
  { x: 173, ys: [462, 483, 505], items: [["_DXC", TXT_RED], ["_DXC+NaBH4", TXT_GREEN], ["_DXC+NaBH4+SPAgNPs", TXT_BLUE]] },
  { x: 519, ys: [460, 482, 503], items: [["_DXC", TXT_RED], ["_DXC+NaBH4", TXT_GREEN], ["_DXC+NaBH4+SMAgNPs", TXT_BLUE]] },
  { x: 112, ys: [860, 880, 901], items: [["_AMX", TXT_MAGENTA], ["_AMX+NaBH4", TXT_GREEN], ["_AMX+NaBH4+SPAgNPs", TXT_BROWN]] },
  { x: 468, ys: [861, 882, 902], items: [["_AMX", TXT_MAGENTA], ["_AMX+NaBH4", TXT_GREEN], ["_AMX+NaBH4+SMAgNPs", TXT_BROWN]] },
];

type TimeCfg = { t0: [number, number]; t1: [number, number]; ax: number; ay0: number; ay1: number; color: string };
const TIMES: TimeCfg[] = [
  { t0: [271.5, 182.5], t1: [276, 240], ax: 271.7, ay0: 192.7, ay1: 231.7, color: TXT_GREEN },
  { t0: [642.5, 182], t1: [647, 240], ax: 642.3, ay0: 192.7, ay1: 230, color: TXT_GREEN },
  { t0: [306, 532.5], t1: [311, 590], ax: 306, ay0: 542.7, ay1: 581.7, color: TXT_BLUE },
  { t0: [675.5, 523], t1: [680, 581], ax: 676, ay0: 533, ay1: 574, color: TXT_BLUE },
  { t0: [184.7, 942], t1: [189.5, 997], ax: 185.3, ay0: 952.7, ay1: 990, color: TXT_BROWN },
  { t0: [540.5, 942.7], t1: [545.7, 997], ax: 540.7, ay0: 953.3, ay1: 990, color: TXT_BROWN },
];

type TitleCfg = { left: number; top: number; width: number; height: number; drug: string };
const TITLES: TitleCfg[] = [
  { left: 43, top: 2, width: 665, height: 27, drug: "Levofloxacin" },
  { left: 38, top: 413, width: 669, height: 29, drug: "Doxycycline hyclate" },
  { left: 45, top: 817, width: 677, height: 26, drug: "Amoxicillin" },
];

const framePlugin = {
  id: "frame",
  afterDatasetsDraw(chart: any) {
    const { ctx, chartArea: a, scales } = chart;
    const l = Math.round(a.left) + 0.5;
    const t = Math.round(a.top) + 0.5;
    const r = Math.round(a.right) - 0.5;
    const b = Math.round(a.bottom) - 0.5;
    ctx.save();
    ctx.strokeStyle = FRAME;
    ctx.lineWidth = 1;
    ctx.beginPath();
    ctx.rect(l, t, r - l, b - t);
    const xs = scales.x, ys = scales.y;
    xs.ticks.forEach((tk: any) => {
      if (tk.value <= xs.min || tk.value >= xs.max) return;
      const px = Math.round(xs.getPixelForValue(tk.value)) + 0.5;
      ctx.moveTo(px, b); ctx.lineTo(px, b - 5);
      ctx.moveTo(px, t); ctx.lineTo(px, t + 5);
    });
    ys.ticks.forEach((tk: any) => {
      if (tk.value <= ys.min || tk.value >= ys.max) return;
      const py = Math.round(ys.getPixelForValue(tk.value)) + 0.5;
      ctx.moveTo(l, py); ctx.lineTo(l + 5, py);
      ctx.moveTo(r, py); ctx.lineTo(r - 5, py);
    });
    ctx.stroke();
    ctx.restore();
  },
};

function ChartPanel({ cfg }: { cfg: PanelCfg }) {
  const ref = useRef<HTMLCanvasElement | null>(null);
  const width = cfg.R - cfg.L + Y_W + PAD_RIGHT;
  const height = cfg.B - cfg.T + PAD_TOP + cfg.xH;
  useEffect(() => {
    if (!ref.current) return;
    const chart = new Chart(ref.current, {
      type: "line",
      data: {
        datasets: cfg.series.map((s) => ({
          data: s.pts.map(([x, y]) => ({ x, y })),
          borderColor: s.color,
          borderWidth: 2,
          pointRadius: 0,
          fill: false,
          cubicInterpolationMode: "monotone",
          clip: 0,
        })),
      },
      options: {
        responsive: false,
        animation: false,
        events: [],
        layout: { padding: { left: 0, top: PAD_TOP, right: PAD_RIGHT, bottom: 0 } },
        plugins: { legend: { display: false }, tooltip: { enabled: false }, title: { display: false } },
        scales: {
          x: {
            type: "linear",
            min: 200,
            max: 500,
            grid: { display: false, drawTicks: false },
            border: { display: false },
            afterBuildTicks: (s: any) => { s.ticks = X_TICKS.map((v) => ({ value: v })); },
            afterFit: (s: any) => { s.height = cfg.xH; s.paddingLeft = 0; s.paddingRight = 0; },
            ticks: {
              padding: cfg.xPad, autoSkip: false, maxRotation: 0, minRotation: 0, color: "#000",
              font: { family: AXIS_FONT, size: 10, weight: "bold" },
              callback: (v: any) => Number(v).toFixed(2),
            },
            title: {
              display: true, text: "Wavelength (nm)", color: "#000",
              font: { family: AXIS_FONT, size: 13, weight: "bold" },
              padding: { top: 0, bottom: 0 },
            },
          },
          y: {
            type: "linear",
            min: 0,
            max: cfg.ymax,
            grid: { display: false, drawTicks: false },
            border: { display: false },
            afterBuildTicks: (s: any) => { s.ticks = cfg.yTicks.map((v) => ({ value: v })); },
            afterFit: (s: any) => { s.width = Y_W; s.paddingTop = 0; s.paddingBottom = 0; },
            ticks: {
              padding: 3, autoSkip: false, color: "#000",
              font: { family: AXIS_FONT, size: 10, weight: "bold" },
              callback: (v: any) => Number(v).toFixed(3),
            },
            title: {
              display: true, text: "Absorbance", color: cfg.yTitleColor,
              font: { family: AXIS_FONT, size: 12.5, weight: "bold" },
              padding: { top: cfg.yTitlePad, bottom: 0 },
            },
          },
        },
      } as any,
      plugins: [framePlugin],
    });
    return () => chart.destroy();
  }, [cfg]);
  return (
    <canvas
      ref={ref}
      width={width}
      height={height}
      style={{ position: "absolute", left: cfg.L - Y_W, top: cfg.T - PAD_TOP, width, height }}
    />
  );
}

function RichLabel({ text }: { text: string }) {
  const parts = text.split("NaBH4");
  return (
    <>
      {parts.map((p, i) => (
        <React.Fragment key={i}>
          {p}
          {i < parts.length - 1 && (
            <>
              NaBH<span style={{ fontSize: "0.8em" }}>4</span>
            </>
          )}
        </React.Fragment>
      ))}
    </>
  );
}

export default function App() {
  const LH = 16;
  return (
    <div style={{ position: "absolute", left: 0, top: 0, width: 737, height: 1183, background: "#fff", overflow: "hidden" }}>
      {PANELS.map((p, i) => (
        <ChartPanel key={i} cfg={p} />
      ))}
      {TITLES.map((t, i) => (
        <div
          key={"t" + i}
          style={{
            position: "absolute", left: t.left, top: t.top, width: t.width, height: t.height,
            boxSizing: "border-box", background: "#cccc00", border: "2px solid #cc0000",
            display: "flex", alignItems: "center", justifyContent: "center",
            fontFamily: AXIS_FONT, fontWeight: "bold", fontSize: 17, color: "#ff0000", whiteSpace: "nowrap",
          }}
        >
          <span>
            Catalytic degradation of {t.drug} by <i>Salvia</i> mediated AgNPs
          </span>
        </div>
      ))}
      {LEGENDS.map((lg, i) =>
        lg.items.map(([txt, col], j) => (
          <div
            key={"l" + i + "_" + j}
            style={{
              position: "absolute", left: lg.x, top: lg.ys[j] - LH / 2, height: LH, lineHeight: LH + "px",
              fontFamily: LABEL_FONT, fontWeight: "bold", fontSize: 12.5, letterSpacing: "0.5px",
              color: col, whiteSpace: "nowrap",
            }}
          >
            <RichLabel text={txt} />
          </div>
        ))
      )}
      {TIMES.map((tm, i) => (
        <React.Fragment key={"m" + i}>
          {([["0 min", tm.t0], ["180 min", tm.t1]] as [string, [number, number]][]).map(([s, c], k) => (
            <div
              key={k}
              style={{
                position: "absolute", left: c[0] - 60, top: c[1] - LH / 2, width: 120, height: LH,
                lineHeight: LH + "px", textAlign: "center",
                fontFamily: LABEL_FONT, fontWeight: "bold", fontSize: 13, color: tm.color, whiteSpace: "nowrap",
              }}
            >
              {s}
            </div>
          ))}
        </React.Fragment>
      ))}
      <svg width={737} height={1183} style={{ position: "absolute", left: 0, top: 0, pointerEvents: "none" }}>
        {TIMES.map((tm, i) => (
          <g key={i}>
            <line x1={tm.ax} y1={tm.ay0} x2={tm.ax} y2={tm.ay1 - 5} stroke={tm.color} strokeWidth={1.5} />
            <polygon
              points={`${tm.ax - 3},${tm.ay1 - 7} ${tm.ax + 3},${tm.ay1 - 7} ${tm.ax},${tm.ay1}`}
              fill={tm.color}
            />
          </g>
        ))}
      </svg>
    </div>
  );
}
